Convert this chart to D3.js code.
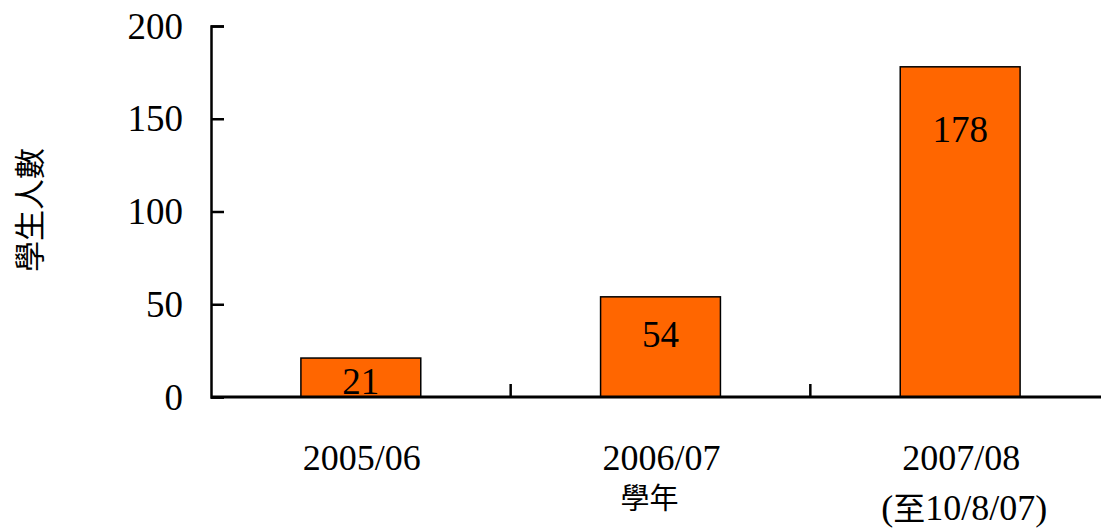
<!DOCTYPE html>
<html>
<head>
<meta charset="utf-8">
<script src="https://cdn.jsdelivr.net/npm/d3@7"></script>
<style>
  body { margin: 0; background: #fff; }
</style>
</head>
<body>
<div id="chart"></div>
<script>
// data
const years = ["2005/06", "2006/07", "2007/08"];
const yearNotes = ["", "", "(至10/8/07)"];
const students = [21, 54, 178];
const yTicks = [0, 50, 100, 150, 200];
const labelOffsets = [36, 50, 75]; // px below bar top for the value label baseline

const SERIF = "'Liberation Serif'";
const CJK = "'Noto Sans CJK TC'";

const width = 1101, height = 528;
const margin = { top: 26, right: -9, bottom: 131, left: 211 };

const svg = d3.select("#chart")
  .append("svg")
  .attr("width", width)
  .attr("height", height);

const x = d3.scaleBand()
  .domain(years)
  .range([margin.left, width - margin.right])
  .paddingInner(0)
  .paddingOuter(0);

const y = d3.scaleLinear()
  .domain([0, 200])
  .range([height - margin.bottom, margin.top]);

const y0 = y(0);
const barW = x.bandwidth() * 0.4;

// bars
svg.selectAll("rect.bar")
  .data(students)
  .enter()
  .append("rect")
  .attr("class", "bar")
  .attr("x", (d, i) => x(years[i]) + (x.bandwidth() - barW) / 2)
  .attr("y", (d) => y(d))
  .attr("width", barW)
  .attr("height", (d) => y0 - y(d))
  .attr("fill", "#FF6600")
  .attr("stroke", "#000")
  .attr("stroke-width", 1.5);

// value labels
svg.selectAll("text.val")
  .data(students)
  .enter()
  .append("text")
  .attr("class", "val")
  .attr("x", (d, i) => x(years[i]) + x.bandwidth() / 2)
  .attr("y", (d, i) => y(d) + labelOffsets[i])
  .attr("text-anchor", "middle")
  .style("font-family", SERIF)
  .style("font-size", "37px")
  .style("fill", "#000")
  .text((d) => d);

// y axis
const yAxis = svg.append("g")
  .attr("transform", `translate(${margin.left},0)`)
  .call(d3.axisLeft(y).tickValues(yTicks).tickSize(-13).tickPadding(28));
yAxis.attr("font-family", null).attr("font-size", null);
yAxis.selectAll("text")
  .style("font-family", SERIF)
  .style("font-size", "37px")
  .style("fill", "#000")
  .attr("dy", "0.33em");
yAxis.select(".domain").attr("stroke", "#000").attr("stroke-width", 2.5);
yAxis.selectAll(".tick line").attr("stroke", "#000").attr("stroke-width", 2.5);

// x axis line and in-between ticks
svg.append("line")
  .attr("x1", margin.left)
  .attr("x2", width - margin.right)
  .attr("y1", y0)
  .attr("y2", y0)
  .attr("stroke", "#000")
  .attr("stroke-width", 3);

svg.selectAll("line.xtick")
  .data(years.slice(1))
  .enter()
  .append("line")
  .attr("class", "xtick")
  .attr("x1", (d) => x(d))
  .attr("x2", (d) => x(d))
  .attr("y1", y0)
  .attr("y2", y0 - 13)
  .attr("stroke", "#000")
  .attr("stroke-width", 2.5);

// category labels
svg.selectAll("text.cat")
  .data(years)
  .enter()
  .append("text")
  .attr("class", "cat")
  .attr("x", (d) => x(d) + x.bandwidth() / 2 + 1)
  .attr("y", 470)
  .attr("text-anchor", "middle")
  .style("font-family", SERIF)
  .style("font-size", "36px")
  .style("fill", "#000")
  .text((d) => d);

const notes = svg.selectAll("text.note")
  .data(yearNotes.filter((d) => d !== ""))
  .enter()
  .append("text")
  .attr("class", "note")
  .attr("x", x(years[2]) + x.bandwidth() / 2 + 4)
  .attr("y", 520)
  .attr("text-anchor", "middle")
  .style("font-family", SERIF)
  .style("font-size", "36px")
  .style("fill", "#000");
notes.append("tspan").text((d) => d.slice(0, 1));
notes.append("tspan").style("font-family", CJK).style("font-size", "32px").text((d) => d.slice(1, 2));
notes.append("tspan").text((d) => d.slice(2));

// axis titles
svg.append("text")
  .attr("x", x(years[1]) + x.bandwidth() / 2 - 11)
  .attr("y", 509)
  .attr("text-anchor", "middle")
  .style("font-family", CJK)
  .style("font-size", "29px")
  .style("fill", "#000")
  .text("學年");

svg.append("text")
  .attr("transform", "translate(41,210) rotate(-90)")
  .attr("text-anchor", "middle")
  .style("font-family", CJK)
  .style("font-size", "31px")
  .style("fill", "#000")
  .text("學生人數");
</script>
</body>
</html>
